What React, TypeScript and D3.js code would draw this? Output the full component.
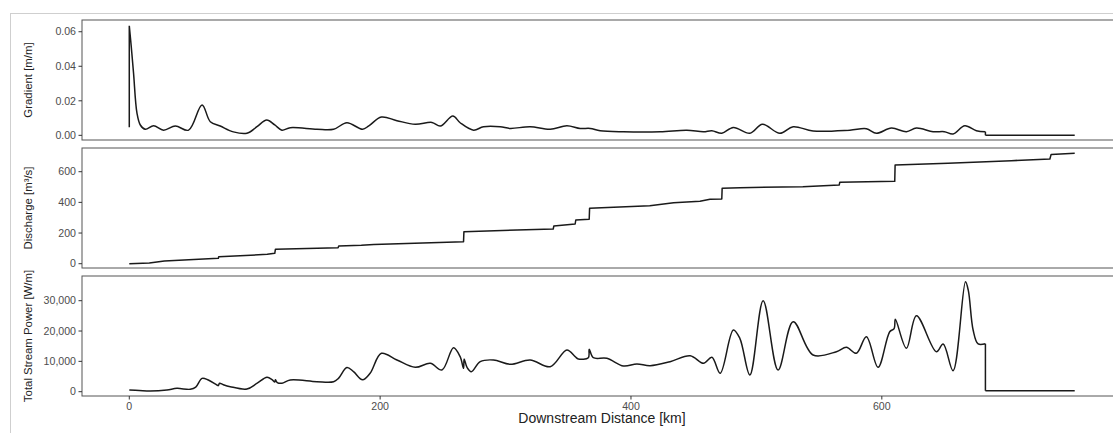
import React from "react";
import * as d3 from "d3";

// Gradient [m/m] along the river
const gradientKm = [0, 0, 1.5, 3.4, 6.1, 8.8, 12.8, 19.4, 27.3, 36.7, 47.3, 58, 64.6, 72.5, 83, 93.8, 101.8, 109.6, 116, 121.7, 128.3, 149.6, 162.9, 173.5, 186, 191, 201, 213.4, 228, 241.3, 248, 258, 263.8, 274.5, 282.4, 295.7, 303.7, 319.6, 335.6, 348.9, 359.5, 367.5, 375.4, 394, 423.3, 444.5, 457.8, 464.5, 472.4, 481.6, 494.8, 504.8, 518.7, 529.3, 545.2, 574.5, 587.7, 595.7, 607.7, 619.6, 627.6, 640.9, 649.9, 656.8, 666.2, 675.4, 682.6, 682.6, 753.8];
const gradientVal = [0.0047, 0.0634, 0.052, 0.036, 0.013, 0.006, 0.0035, 0.0056, 0.003, 0.0054, 0.003, 0.0176, 0.0079, 0.0054, 0.002, 0.0012, 0.005, 0.0089, 0.006, 0.003, 0.0044, 0.0035, 0.0035, 0.0073, 0.0035, 0.0055, 0.0106, 0.0085, 0.0064, 0.0075, 0.0054, 0.0112, 0.0073, 0.003, 0.005, 0.005, 0.004, 0.005, 0.0035, 0.0056, 0.004, 0.004, 0.0027, 0.0021, 0.0021, 0.003, 0.0021, 0.0027, 0.0012, 0.0046, 0.0012, 0.0064, 0.0012, 0.005, 0.0025, 0.003, 0.0038, 0.0012, 0.0042, 0.0021, 0.0042, 0.0021, 0.0021, 0.0008, 0.0056, 0.0027, 0.0021, 0.0, 0.0];

// Discharge [m3/s] (stepwise increases at tributaries)
const dischargeKm = [0, 16, 28, 71, 71.3, 110, 116, 116.5, 166.5, 167, 185, 195, 266.5, 266.8, 338, 338.5, 355.5, 356, 366.7, 367, 415, 434, 455, 463, 472.4, 472.7, 487, 537, 566, 566.5, 610.3, 610.6, 652.8, 703.3, 734, 735, 753.8];
const dischargeVal = [0, 5, 18, 35, 46, 61, 68, 94, 104, 115, 120, 126, 143, 209, 226, 246, 259, 285, 290, 361, 378, 398, 407, 420, 422, 492, 496, 502, 513, 531, 537, 644, 655, 672, 683, 713, 720];

// Total stream power [W/m]
const powerKm = [0, 8, 16.7, 30, 38, 48.6, 53, 58, 63, 69.9, 71, 72, 75, 80.5, 93.8, 102, 109.8, 113.8, 116, 116.5, 118, 121.7, 128.3, 149.6, 162.9, 166.8, 173.5, 178.8, 186, 192, 201, 213.4, 228, 240, 249.3, 258.5, 263.8, 266.5, 267, 269.3, 272.7, 279.8, 290.4, 303.7, 319.6, 335.6, 348.9, 355.5, 358, 366, 366.7, 370, 380.8, 394, 404.7, 415.3, 431.2, 447.2, 457.8, 464.5, 471.1, 481.6, 486.8, 494.8, 505.4, 517.3, 529.3, 545.2, 563.8, 571.8, 579.7, 587.7, 597, 606.3, 609.8, 610.8, 619.6, 627.6, 643.5, 648.9, 656.8, 666.7, 669, 672.8, 676.8, 682.6, 682.6, 753.8];
const powerVal = [560, 400, 230, 560, 1100, 790, 1500, 4400, 3850, 2200, 2000, 2800, 2300, 1650, 890, 2800, 4750, 4000, 3200, 3900, 3000, 2770, 3850, 3300, 3300, 4400, 8000, 6600, 3900, 6070, 12650, 10450, 8040, 9360, 7150, 14500, 11540, 7700, 10800, 8000, 6600, 9900, 10450, 9030, 10450, 8240, 13750, 11540, 10800, 11200, 14000, 11200, 11000, 8470, 9130, 8570, 9900, 11870, 9360, 11340, 6070, 20340, 17600, 5500, 30000, 7150, 23080, 12100, 13190, 14640, 12660, 18130, 8040, 19780, 20780, 23870, 14300, 25050, 13190, 15730, 6920, 36260, 33300, 20340, 15730, 15800, 300, 300];

const xTicks = [0, 200, 400, 600];
const gradientTicks = [0, 0.02, 0.04, 0.06];
const dischargeTicks = [0, 200, 400, 600];
const powerTicks = [0, 10000, 20000, 30000];

const FONT = "'Liberation Sans', Arial, sans-serif";
const PX0 = 82;
const PX1 = 1122;

// Build a path: smooth runs, with vertical jumps (equal x) drawn straight.
function buildPath(pts: [number, number][], smooth: boolean): string {
  if (!smooth) return d3.line()(pts) || "";
  const runs: [number, number][][] = [];
  let cur: [number, number][] = [pts[0]];
  for (let i = 1; i < pts.length; i++) {
    if (Math.abs(pts[i][0] - pts[i - 1][0]) < 1e-6) {
      runs.push(cur);
      cur = [pts[i - 1], pts[i]];
      runs.push(cur);
      cur = [pts[i]];
    } else {
      cur.push(pts[i]);
    }
  }
  runs.push(cur);
  const smoothLine = d3.line().curve(d3.curveCatmullRom.alpha(0.5));
  const straight = d3.line();
  return runs
    .filter((r) => r.length >= 2)
    .map((r) => (r.length > 2 ? smoothLine(r) : straight(r)) || "")
    .join("");
}

export default function App() {
  const x = d3.scaleLinear().domain([-37.7, 791.5]).range([PX0, PX1]);

  const panels = [
    {
      key: "g",
      top: 20, bottom: 140,
      domain: [-0.0027, 0.0668],
      ticks: gradientTicks,
      fmt: d3.format(".2f"),
      title: "Gradient [m/m]",
      xs: gradientKm, ys: gradientVal,
      smooth: true,
    },
    {
      key: "q",
      top: 148, bottom: 268,
      domain: [-28, 754.6],
      ticks: dischargeTicks,
      fmt: d3.format("d"),
      title: "Discharge [m\u00B3/s]",
      xs: dischargeKm, ys: dischargeVal,
      smooth: false,
    },
    {
      key: "p",
      top: 276, bottom: 396,
      domain: [-1420, 38140],
      ticks: powerTicks,
      fmt: d3.format(","),
      title: "Total Stream Power [W/m]",
      xs: powerKm, ys: powerVal,
      smooth: true,
    },
  ];

  return (
    <svg
      width={1113}
      height={433}
      style={{ position: "absolute", left: 0, top: 0, background: "#fff" }}
    >
      <rect x={0} y={0} width={1113} height={433} fill="#fff" />
      <line x1={10} y1={13.5} x2={1113} y2={13.5} stroke="#cfcfcf" strokeWidth={1} />
      <line x1={10.5} y1={13} x2={10.5} y2={433} stroke="#cfcfcf" strokeWidth={1} />

      {panels.map((p) => {
        const y = d3.scaleLinear().domain(p.domain).range([p.bottom, p.top]);
        const pts: [number, number][] = p.xs.map((k, i) => [x(k), y(p.ys[i])]);
        const d = buildPath(pts, p.smooth);
        const mid = (p.top + p.bottom) / 2;
        return (
          <g key={p.key}>
            <rect
              x={PX0}
              y={p.top}
              width={PX1 - PX0}
              height={p.bottom - p.top}
              fill="none"
              stroke="#555"
              strokeWidth={1}
            />
            <path d={d} fill="none" stroke="#1a1a1a" strokeWidth={1.5} strokeLinejoin="round" />
            {p.ticks.map((t) => (
              <g key={t}>
                <line x1={78.5} x2={PX0} y1={y(t)} y2={y(t)} stroke="#333" strokeWidth={1} />
                <text
                  x={76}
                  y={y(t)}
                  dy="0.35em"
                  textAnchor="end"
                  fontFamily={FONT}
                  fontSize={10.6}
                  fill="#4d4d4d"
                >
                  {p.fmt(t)}
                </text>
              </g>
            ))}
            <text
              transform={`translate(32,${mid}) rotate(-90)`}
              textAnchor="middle"
              fontFamily={FONT}
              fontSize={11.4}
              fill="#222"
            >
              {p.title}
            </text>
          </g>
        );
      })}

      {xTicks.map((t) => (
        <g key={t}>
          <line x1={x(t)} x2={x(t)} y1={396} y2={399.5} stroke="#333" strokeWidth={1} />
          <text
            x={x(t)}
            y={409.5}
            textAnchor="middle"
            fontFamily={FONT}
            fontSize={10.6}
            fill="#4d4d4d"
          >
            {t}
          </text>
        </g>
      ))}
      <text
        x={(PX0 + PX1) / 2}
        y={423}
        textAnchor="middle"
        fontFamily={FONT}
        fontSize={14}
        fill="#222"
      >
        Downstream Distance [km]
      </text>
    </svg>
  );
}
